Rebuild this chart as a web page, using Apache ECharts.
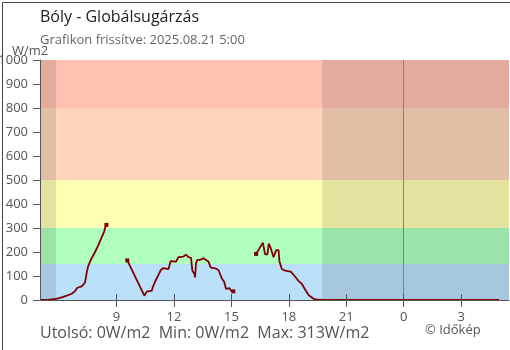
<!DOCTYPE html>
<html>
<head>
<meta charset="utf-8">
<script src="https://cdn.jsdelivr.net/npm/echarts@6/dist/echarts.min.js"></script>
<style>
html,body{margin:0;padding:0;background:#fff;}
#c{width:510px;height:350px;}
</style>
</head>
<body>
<div id="c"></div>
<script>
// ---- data (hours since midnight of the day; 24+ = next day) ----
var tickHours = [9, 12, 15, 18, 21, 24, 27];
var yTicks = [0, 100, 200, 300, 400, 500, 600, 700, 800, 900, 1000];

var seg1Times = [5.0, 5.42, 5.52, 5.84, 6.13, 6.40, 6.66, 6.83, 6.95, 7.18, 7.35, 7.44, 7.52, 7.70, 7.88, 8.05, 8.22, 8.35, 8.41, 8.47];
var seg1Values = [0, 0, 2, 5, 11, 18, 26, 37, 51, 57, 72, 114, 142, 174, 201, 229, 261, 285, 303, 313];

var seg2Times = [9.56, 10.45, 10.58, 10.84, 10.89, 11.01, 11.18, 11.31, 11.45, 11.71, 11.83, 12.11, 12.23, 12.49, 12.63, 12.75, 12.89, 12.96, 13.07, 13.10, 13.15, 13.22, 13.36, 13.54, 13.80, 13.92, 14.15, 14.32, 14.50, 14.62, 14.72, 14.90, 14.97, 15.10];
var seg2Values = [165, 18, 35, 39, 53, 76, 104, 125, 133, 129, 162, 160, 179, 181, 189, 179, 176, 122, 108, 94, 153, 167, 167, 174, 160, 135, 132, 125, 90, 76, 46, 49, 39, 36];

var seg3Times = [16.29, 16.64, 16.76, 16.88, 16.95, 17.06, 17.20, 17.34, 17.46, 17.51, 17.63, 17.81, 18.10, 18.33, 18.50, 18.68, 18.85, 19.03, 19.29, 19.55, 19.95, 28.98];
var seg3Values = [192, 239, 190, 190, 235, 215, 178, 208, 208, 160, 129, 122, 118, 97, 80, 67, 44, 21, 5, 1, 0, 0];

var bandLimits = [0, 150, 300, 500, 800, 1000];
var bandColors = ['#bbe0fa', '#b0ffbf', '#ffffb4', '#ffd6bc', '#ffc1b2'];
var nightRanges = [[5.0, 5.84], [19.74, 29.5]];
var midnight = 24;

var titleText = 'Bóly - Globálsugárzás';
var subText = 'Grafikon frissítve: 2025.08.21 5:00';
var statsText = 'Utolsó: 0W/m2  Min: 0W/m2  Max: 313W/m2';
var creditText = '© Időkép';
var unitText = 'W/m2';

var FONT = '"Open Sans", "Noto Sans", sans-serif';
var LINE_COLOR = '#800000';

function buildSeg(times, values, markStart, markEnd) {
  return times.map(function (t, i) {
    var item = { value: [t, values[i]] };
    if ((i === 0 && markStart) || (i === times.length - 1 && markEnd)) {
      item.symbol = 'rect';
      item.symbolSize = 4;
    }
    return item;
  });
}

var bandData = [];
for (var i = 0; i < bandColors.length; i++) {
  bandData.push([{ yAxis: bandLimits[i], itemStyle: { color: bandColors[i] } }, { yAxis: bandLimits[i + 1] }]);
}
var nightData = nightRanges.map(function (r) {
  return [{ xAxis: r[0] }, { xAxis: r[1] }];
});

function lineSeries(data) {
  return {
    type: 'line', z: 5, data: data, symbol: 'none', showSymbol: true,
    lineStyle: { color: LINE_COLOR, width: 1.8 },
    itemStyle: { color: LINE_COLOR },
    animation: false, silent: true
  };
}

var chart = echarts.init(document.getElementById('c'), null, { renderer: 'canvas' });
chart.setOption({
  animation: false,
  backgroundColor: '#fff',
  textStyle: { fontFamily: FONT },
  grid: { left: 40, right: 1, top: 60, bottom: 50, containLabel: false, outerBoundsMode: 'none' },
  xAxis: [{
    type: 'value', min: 5, max: 29.5, z: 10,
    axisLine: { show: true, onZero: false, lineStyle: { color: '#555', width: 1 } },
    axisTick: { show: true, length: 7, customValues: tickHours, lineStyle: { color: '#555' } },
    axisLabel: { show: true, customValues: tickHours, margin: 11, color: '#555', fontSize: 13, fontFamily: FONT,
      formatter: function (v) { return String(Math.round(v) % 24); } },
    splitLine: { show: false }
  }, {
    type: 'value', min: 5, max: 29.5, position: 'bottom', z: 10,
    axisLine: { show: false },
    axisTick: { show: true, inside: true, length: 6, customValues: tickHours, lineStyle: { color: '#555' } },
    axisLabel: { show: false },
    splitLine: { show: false }
  }],
  yAxis: {
    type: 'value', min: 0, max: 1000, interval: 100, z: 10,
    axisLine: { show: true, lineStyle: { color: '#555', width: 1 } },
    axisTick: { show: true, length: 7, lineStyle: { color: '#555' } },
    axisLabel: { margin: 12, color: '#555', fontSize: 13, fontFamily: FONT,
      formatter: function (v) { return String(v); } },
    splitLine: { show: false }
  },
  series: [
    {
      type: 'line', z: 1, data: [[5, 0]], symbol: 'none', lineStyle: { opacity: 0 }, silent: true,
      markArea: { silent: true, data: bandData }
    },
    {
      type: 'line', z: 2, data: [[5, 0]], symbol: 'none', lineStyle: { opacity: 0 }, silent: true,
      markArea: { silent: true, itemStyle: { color: 'rgba(0,0,0,0.11)' }, data: nightData },
      markLine: { silent: true, symbol: 'none', label: { show: false },
        lineStyle: { color: '#4a90c8', width: 1, type: 'solid' },
        data: [{ xAxis: midnight }] }
    },
    lineSeries(buildSeg(seg1Times, seg1Values, false, true)),
    lineSeries(buildSeg(seg2Times, seg2Values, true, true)),
    lineSeries(buildSeg(seg3Times, seg3Values, true, false))
  ],
  graphic: [
    { type: 'text', left: 40, top: 9, style: { text: titleText, fontSize: 16, fontFamily: FONT, fill: '#222' } },
    { type: 'text', left: 40, top: 34, style: { text: subText, fontSize: 13, fontFamily: FONT, fill: '#666' } },
    { type: 'text', left: 12, top: 45, z: 20, style: { text: unitText, fontSize: 13, fontFamily: FONT, fill: '#555' } },
    { type: 'text', left: 40, top: 325, style: { text: statsText, fontSize: 16, fontFamily: FONT, fill: '#555' } },
    { type: 'text', left: 425, top: 324, style: { text: creditText, fontSize: 13, fontFamily: FONT, fill: '#555' } },
    { type: 'rect', left: 0, top: 0, z: 30, silent: true,
      shape: { x: 0, y: 0, width: 509, height: 349 },
      style: { fill: 'none', stroke: '#444', lineWidth: 1 } }
  ]
});
</script>
</body>
</html>
